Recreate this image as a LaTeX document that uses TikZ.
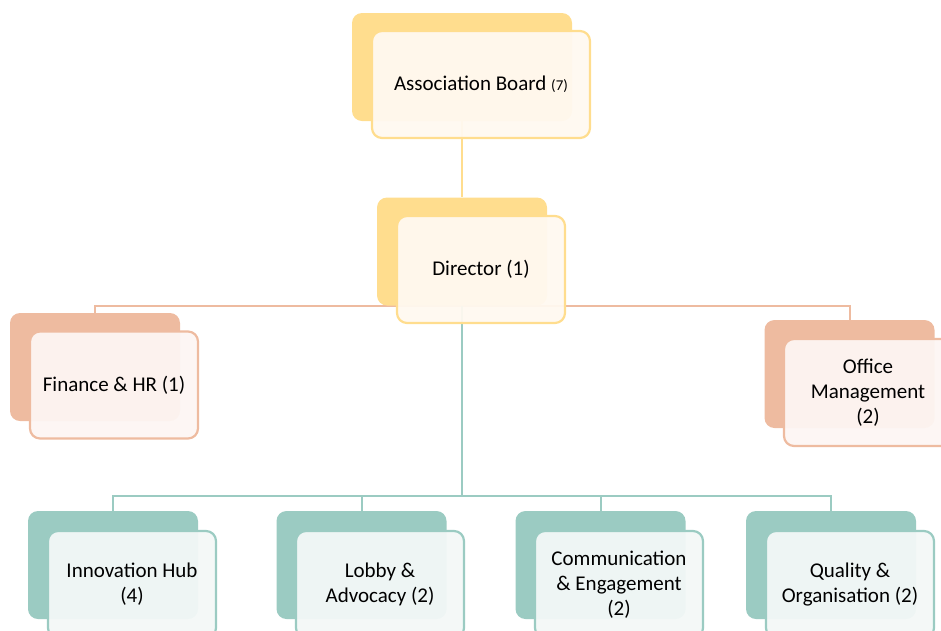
\documentclass[tikz,border=0pt]{standalone}
\usepackage{fontspec}
\setmainfont{Carlito}
\usetikzlibrary{backgrounds}
\definecolor{yel}{HTML}{FFDD8E}
\definecolor{yelfr}{HTML}{FFF9F0}
\definecolor{ora}{HTML}{EEBBA0}
\definecolor{orafr}{HTML}{FDF6F3}
\definecolor{tea}{HTML}{9BCBC2}
\definecolor{teafr}{HTML}{F3F8F7}
\begin{document}
\begin{tikzpicture}[x=1pt, y=-1pt, line join=round, line cap=round,
 font=\fontsize{21}{25}\selectfont,
 back/.style={rounded corners=10pt, minimum width=170pt, minimum height=108pt, inner sep=0pt, fill=#1},
 front/.style={rounded corners=10pt, minimum width=168pt, minimum height=107pt, inner sep=0pt,
   draw=#1, line width=2.2pt, align=center, fill opacity=0.95, text opacity=1},
 link/.style={line width=2pt, draw=#1}]
 \useasboundingbox (0,0) rectangle (941,630);
 % back cards
 \node[back=yel, minimum width=220pt] (boardB) at (462,67) {};
 \node[back=yel] (dirB) at (462,251.5) {};
 \node[back=ora] (finB) at (95,367) {};
 \node[back=ora] (offB) at (849.5,374) {};
 \node[back=tea] (innB) at (113,565) {};
 \node[back=tea] (lobB) at (361.5,565) {};
 \node[back=tea] (comB) at (600.5,565) {};
 \node[back=tea] (quaB) at (831,565) {};
 % front cards
 \node[front=yel, fill=yelfr, minimum width=218pt] (board) at (481,84.5) {Association Board {\fontsize{15}{18}\selectfont(7)}};
 \node[front=yel, fill=yelfr] (dir) at (481,269.5) {Director (1)};
 \node[front=ora, fill=orafr] (fin) at (114,385) {Finance \& HR (1)};
 \node[front=ora, fill=orafr] (off) at (868,392.5) {Office\\Management\\(2)};
 \node[front=tea, fill=teafr] (inn) at (132,584.5) {Innovation Hub\\(4)};
 \node[front=tea, fill=teafr] (lob) at (380,584.5) {Lobby \&\\Advocacy (2)};
 \node[front=tea, fill=teafr] (com) at (619,584.5) {Communication\\\& Engagement\\(2)};
 \node[front=tea, fill=teafr] (qua) at (850,584.5) {Quality \&\\Organisation (2)};
 % connectors
 \coordinate (bar) at (462,496);
 \begin{scope}[on background layer]
 \draw[link=yel] (boardB.south) -- (dirB.north);
 \draw[link=ora] (finB.north) |- (dirB.south) -| (offB.north);
 \draw[link=tea] (dirB.south) -- (bar);
 \draw[link=tea] (innB.north) |- (bar) -| (quaB.north);
 \draw[link=tea] (lobB.north) |- (bar);
 \draw[link=tea] (comB.north) |- (bar);
 \end{scope}
\end{tikzpicture}
\end{document}
